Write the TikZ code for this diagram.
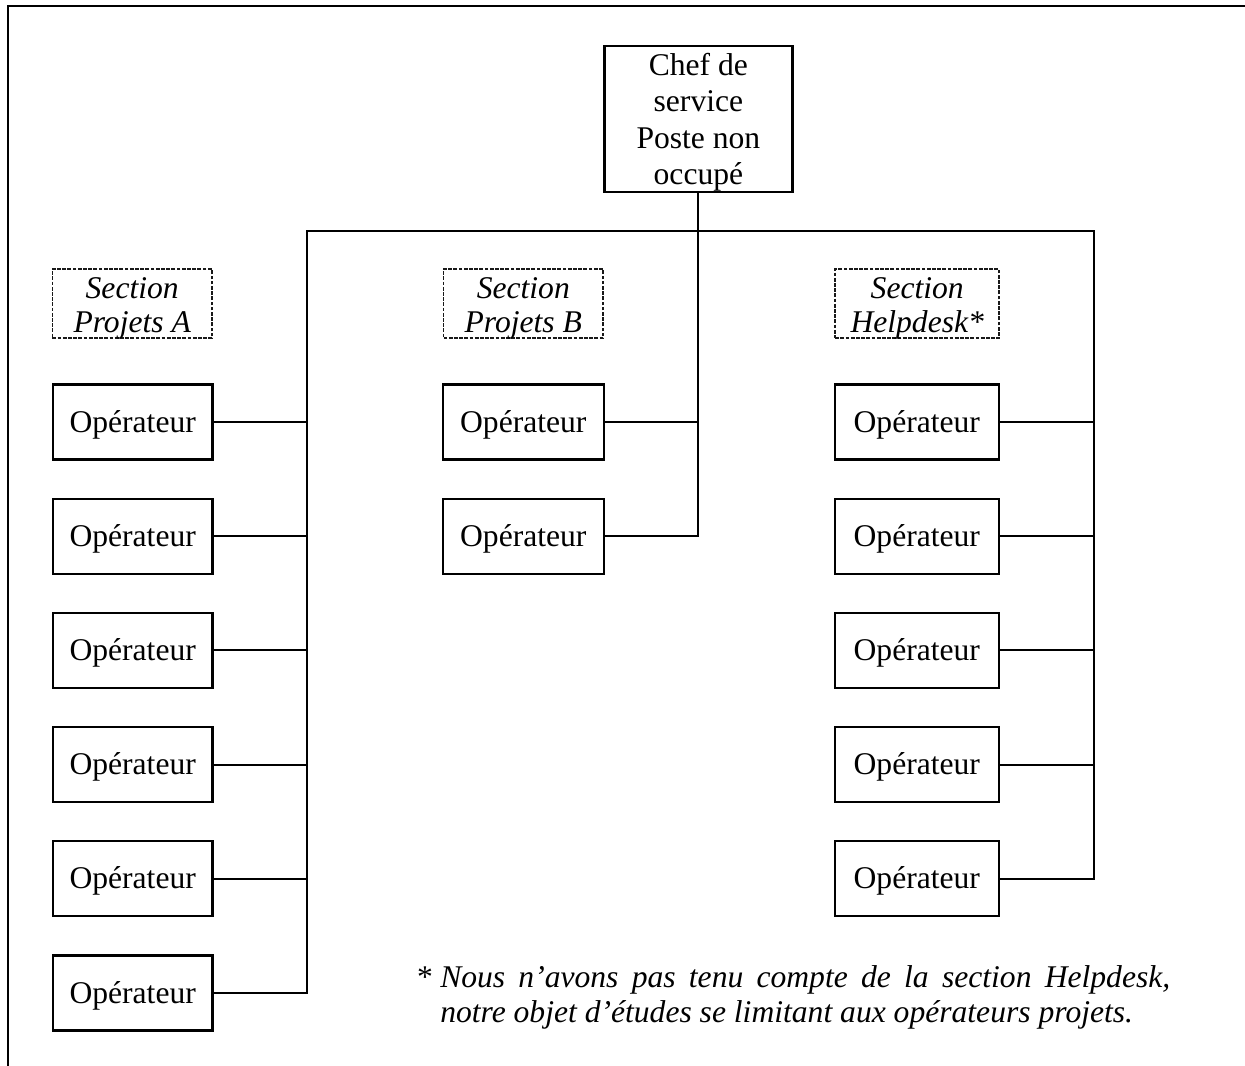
\documentclass[tikz,border=0pt]{standalone}
\usepackage{fontspec}
\setmainfont{Liberation Serif}
\begin{document}
\begin{tikzpicture}[x=0.75pt,y=-0.75pt,
  every node/.style={font=\fontsize{23.7pt}{27.4pt}\selectfont},
  link/.style={line width=1.6pt},
  opbox/.style={draw,line width=1.7pt,inner sep=0pt,minimum width=119.5pt,minimum height=56.25pt,
    text height=20pt,text depth=5pt},
  opboxh/.style={opbox,minimum width=123pt},
  chefbox/.style={draw,line width=1.7pt,inner sep=0pt,minimum width=141pt,minimum height=109.3pt},
  secbox/.style={draw=black!90,line width=1.3pt,dash pattern=on 2.8pt off 1.1pt,inner sep=0pt,
    minimum height=51.75pt},
  boxtext/.style={inner sep=0pt,align=center},
  sectext/.style={boxtext,font=\fontsize{23.7pt}{25.6pt}\selectfont\itshape},
  note/.style={inner sep=0pt,anchor=base west,font=\fontsize{23.7pt}{27.4pt}\selectfont\itshape}]
\useasboundingbox (0,0) rectangle (1245,1066);

% outer frame (top and left sides only)
\draw[line width=1.7pt] (7.8,1066) -- (7.8,6) -- (1245,6);

% head of service
\node[chefbox] (chef) at (698.4,118.9) {};
\node[boxtext] (chefT) at ([yshift=-2.6pt]chef.center) {Chef de\\service\\Poste non\\occupé};

% section headings
\node[secbox,minimum width=119.6pt] (secA) at (132.2,303.7) {};
\node[secbox,minimum width=119.6pt] (secB) at (523.3,303.7) {};
\node[secbox,minimum width=123pt] (secH) at (917.2,303.7) {};
\node[sectext] (secAT) at ([yshift=-3.6pt]secA.center) {Section\\Projets A};
\node[sectext] (secBT) at ([yshift=-3.6pt]secB.center) {Section\\Projets B};
\node[sectext] (secHT) at ([yshift=-3.6pt]secH.center) {Section\\Helpdesk*};

% operators, section A
\foreach \i/\y in {1/422,2/536.2,3/650.4,4/764.6,5/878.8,6/993}
  \node[opbox] (a\i) at (132.7,\y) {Opérateur};
% operators, section B
\foreach \i/\y in {1/422,2/536.2}
  \node[opbox,minimum width=120.5pt] (b\i) at (523.3,\y) {Opérateur};
% operators, section Helpdesk
\foreach \i/\y in {1/422,2/536.2,3/650.4,4/764.6,5/878.8}
  \node[opboxh] (h\i) at (916.8,\y) {Opérateur};

% bus corners
\coordinate (topL) at (306.7,231);
\coordinate (topR) at (1094,231);

% connectors
\draw[link] (chef.south) -- (chef.south |- b2.east) -- (b2.east);
\draw[link] (b1.east) -- (b1.east -| chef.south);
\draw[link] (a6.east) -| (topL) -- (topR) |- (h5.east);
\foreach \i in {1,...,5}
  \draw[link] (a\i.east) -- (a\i.east -| topL);
\foreach \i in {1,...,4}
  \draw[link] (h\i.east) -- (h\i.east -| topR);

% footnote
\node[inner sep=0pt,anchor=base,font=\fontsize{23.7pt}{27.4pt}\selectfont] (star) at (425,987) {*};
\node[note] (n1) at (440,987) {\makebox[547.5pt][s]{Nous n’avons pas tenu compte de la section Helpdesk,}};
\node[note] (n2) at (440,1022.5) {notre objet d’études se limitant aux opérateurs projets.};
\end{tikzpicture}
\end{document}
